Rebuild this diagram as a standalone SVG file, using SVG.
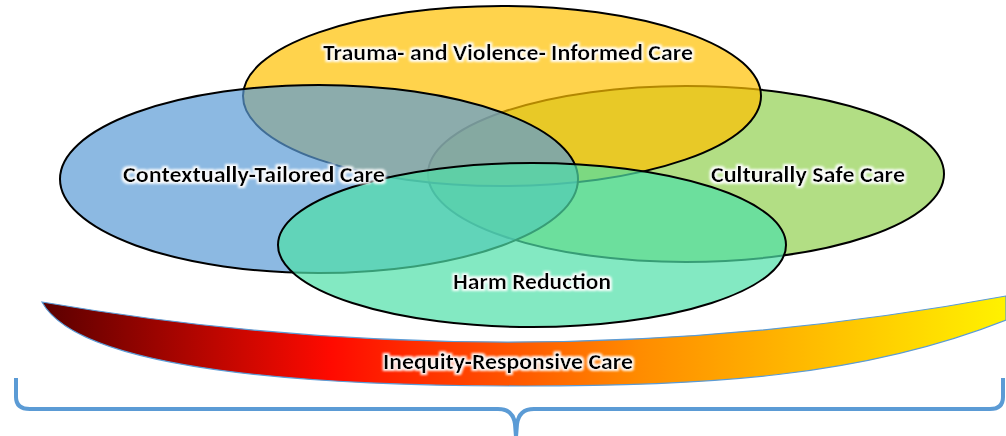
<svg xmlns="http://www.w3.org/2000/svg" width="1006" height="436" viewBox="0 0 1006 436">
<defs>
<linearGradient id="band" x1="42" y1="0" x2="1006" y2="0" gradientUnits="userSpaceOnUse">
<stop offset="0" stop-color="#5a0000"/>
<stop offset="0.3" stop-color="#ff0a00"/>
<stop offset="0.62" stop-color="#ff8c00"/>
<stop offset="1" stop-color="#fff200"/>
</linearGradient>
<filter id="glow" x="-10%" y="-40%" width="120%" height="180%">
<feMorphology in="SourceAlpha" operator="dilate" radius="1.6" result="d"/>
<feGaussianBlur in="d" stdDeviation="1.2" result="b"/>
<feFlood flood-color="#ffffff" flood-opacity="0.95"/>
<feComposite in2="b" operator="in" result="g"/>
<feMerge><feMergeNode in="g"/><feMergeNode in="SourceGraphic"/></feMerge>
</filter>
</defs>
<style>
.e{stroke:#000;stroke-width:2;fill-opacity:0.7}
.t{font-family:Carlito,Lato,"Open Sans",sans-serif;font-weight:bold;font-size:23px;fill:#000;text-anchor:middle;filter:url(#glow)}
</style>
<g id="culturally-safe">
<ellipse class="e" cx="686" cy="174" rx="258" ry="88" fill="#92d050"/>
</g>
<g id="trauma-informed">
<ellipse class="e" cx="502" cy="96" rx="259" ry="90" fill="#ffc000"/>
</g>
<g id="contextually-tailored">
<ellipse class="e" cx="319" cy="179" rx="259" ry="94" fill="#5b9bd5"/>
</g>
<g id="harm-reduction">
<ellipse class="e" cx="532" cy="245" rx="254" ry="82" fill="#4fdfa8"/>
</g>
<g id="labels">
<text class="t" x="508" y="60" textLength="370" lengthAdjust="spacingAndGlyphs">Trauma- and Violence- Informed Care</text>
<text class="t" x="254" y="182" textLength="262" lengthAdjust="spacingAndGlyphs">Contextually-Tailored Care</text>
<text class="t" x="808" y="182" textLength="194" lengthAdjust="spacingAndGlyphs">Culturally Safe Care</text>
<text class="t" x="532" y="289" textLength="158" lengthAdjust="spacingAndGlyphs">Harm Reduction</text>
</g>
<g id="inequity-responsive">
<path d="M42,302 Q524,385 1006,296 L1006,320 C860,378 700,386 524,386 C320,386 80,372 42,302 Z" fill="url(#band)" stroke="#5b9bd5" stroke-width="1.2"/>
<text class="t" x="508" y="369" textLength="250" lengthAdjust="spacingAndGlyphs">Inequity-Responsive Care</text>
</g>
<g id="connectors">
<path d="M16,378 L16,397 Q16,409 30,409 L498,409 Q513,409 515,424 L516,437 L517,424 Q519,409 534,409 L990,409 Q1003,409 1003,397 L1003,378" fill="none" stroke="#5b9bd5" stroke-width="4"/>
</g>
</svg>
